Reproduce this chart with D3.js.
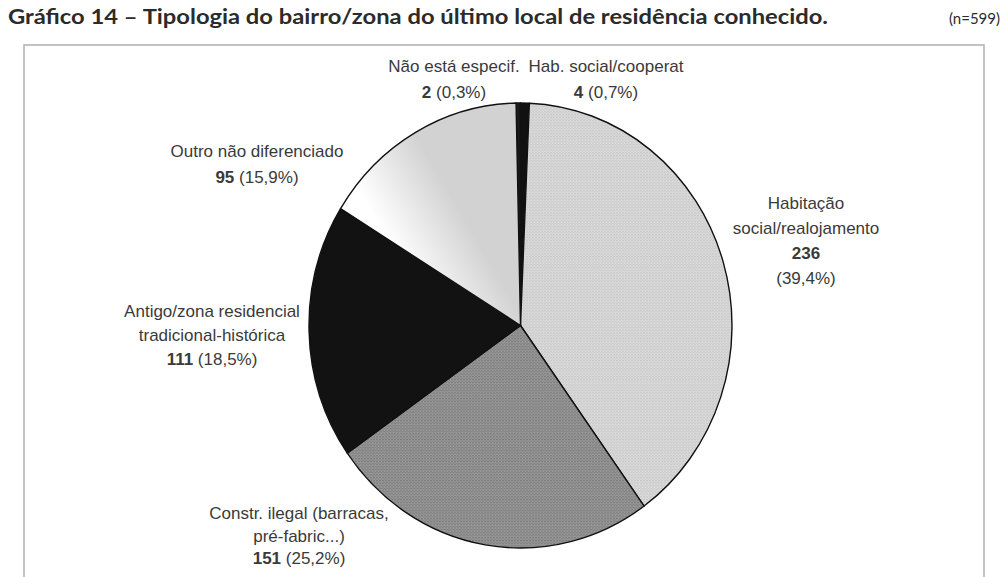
<!DOCTYPE html>
<html lang="pt">
<head>
<meta charset="UTF-8">
<title>Gráfico 14</title>
<script src="https://d3js.org/d3.v7.min.js"></script>
<style>
  body { margin: 0; background: #fff; }
  .lbl { font-family: "Liberation Sans", Arial, sans-serif; font-size: 17px; fill: #3a3a3a; }
  .title { font-family: Lato, "Noto Sans", sans-serif; font-weight: bold; fill: #2b2b2b; }
  .n { font-family: Lato, "Noto Sans", sans-serif; font-size: 15px; fill: #2b2b2b; }
</style>
</head>
<body>
<svg width="1006" height="577"></svg>
<script>
// data
const categories = ["Não está especif.", "Hab. social/cooperat", "Habitação|social/realojamento",
                    "Constr. ilegal (barracas,|pré-fabric...)", "Antigo/zona residencial|tradicional-histórica",
                    "Outro não diferenciado"];
const values = [2, 4, 236, 151, 111, 95];
const percents = ["0,3%", "0,7%", "39,4%", "25,2%", "18,5%", "15,9%"];
const total = 599;

// label placement (x centre, first baseline, line gap, value and % on separate lines)
const labelPos = [
  { x: 454, y: 72, gap: 26, split: false },
  { x: 606, y: 72, gap: 26, split: false },
  { x: 806, y: 209, gap: 25, split: true },
  { x: 299, y: 519, gap: 22.5, split: false },
  { x: 212, y: 317, gap: 24, split: false },
  { x: 257, y: 157, gap: 26, split: false }
];
const fills = ["#1c1c1c", "#111", "url(#pLight)", "url(#pMid)", "#121212", "url(#gOutro)"];

const svg = d3.select("svg");
const defs = svg.append("defs");

function dots(id, base, dot) {
  const p = defs.append("pattern").attr("id", id)
    .attr("width", 3).attr("height", 3).attr("patternUnits", "userSpaceOnUse");
  p.append("rect").attr("width", 3).attr("height", 3).attr("fill", base);
  p.append("rect").attr("width", 1).attr("height", 1).attr("fill", dot);
  p.append("rect").attr("x", 1.5).attr("y", 1.5).attr("width", 1).attr("height", 1).attr("fill", dot);
}
dots("pLight", "#dcdcdc", "#b4b4b4");
dots("pMid", "#9a9a9a", "#5e5e5e");

const g0 = defs.append("linearGradient").attr("id", "gOutro")
  .attr("gradientUnits", "userSpaceOnUse")
  .attr("x1", -95).attr("y1", -20).attr("x2", -30).attr("y2", -60);
g0.append("stop").attr("offset", 0).attr("stop-color", "#ffffff");
g0.append("stop").attr("offset", 1).attr("stop-color", "#d2d2d2");

// frame
svg.append("path")
  .attr("d", "M24,577 V45 H984 V577")
  .attr("fill", "none").attr("stroke", "#b0b0b0").attr("stroke-width", 1.5);

// title
svg.append("text").attr("class", "title")
  .attr("x", 8).attr("y", 24).attr("font-size", 20)
  .attr("textLength", 820).attr("lengthAdjust", "spacingAndGlyphs")
  .text("Gráfico 14  – Tipologia do bairro/zona do último local de residência conhecido.");
svg.append("text").attr("class", "n")
  .attr("x", 1000).attr("y", 24)
  .attr("text-anchor", "end")
  .text("(n=" + total + ")");

// pie
const r = 211.5;
const pie = d3.pie().sort(null)
  .startAngle(-2 * Math.PI * values[0] / total)
  .endAngle(2 * Math.PI - 2 * Math.PI * values[0] / total);
const arc = d3.arc().innerRadius(0).outerRadius(r);
const arcs = pie(values);

const g = svg.append("g").attr("transform", "translate(520.5,325.5) scale(1,1.052)");
g.selectAll("path").data(arcs).enter().append("path")
  .attr("d", arc)
  .attr("fill", (d, i) => fills[i])
  .attr("stroke", "#111")
  .attr("stroke-width", 1.4)
  .attr("vector-effect", "non-scaling-stroke")
  .attr("stroke-linejoin", "round");

// labels
categories.forEach((name, i) => {
  const p = labelPos[i];
  const t = svg.append("text").attr("class", "lbl").attr("text-anchor", "middle");
  const lines = name.split("|");
  lines.forEach((ln, k) => {
    t.append("tspan").attr("x", p.x).attr("y", p.y + k * p.gap).text(ln);
  });
  let k = lines.length;
  const vy = p.y + k * p.gap;
  t.append("tspan").attr("x", p.x).attr("y", vy).attr("font-weight", "bold").text(values[i]);
  if (p.split) {
    t.append("tspan").attr("x", p.x).attr("y", vy + p.gap).text("(" + percents[i] + ")");
  } else {
    t.append("tspan").text(" (" + percents[i] + ")");
  }
});
</script>
</body>
</html>
